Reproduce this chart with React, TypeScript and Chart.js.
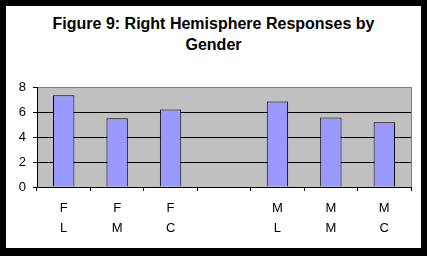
import React, { useEffect, useRef } from "react";
import { Chart, registerables } from "chart.js";

Chart.register(...registerables);

const titleLines = ["Figure 9: Right Hemisphere Responses by", "Gender"];
const categories: (string | string[])[] = [["F", "L"], ["F", "M"], ["F", "C"], "", ["M", "L"], ["M", "M"], ["M", "C"]];
const responses: (number | null)[] = [7.35, 5.5, 6.2, null, 6.85, 5.57, 5.18];
const yMin = 0;
const yMax = 8;
const yStep = 2;

const FONT = "Arial, 'Liberation Sans', sans-serif";

const plotBg = {
  id: "plotBg",
  beforeDraw(chart: any) {
    const { ctx, chartArea: a } = chart;
    ctx.save();
    ctx.fillStyle = "#C0C0C0";
    ctx.fillRect(a.left, a.top, a.right - a.left, a.bottom - a.top);
    ctx.restore();
  },
  afterDatasetsDraw(chart: any) {
    const { ctx, chartArea: a } = chart;
    ctx.save();
    ctx.strokeStyle = "#808080";
    ctx.lineWidth = 1;
    ctx.beginPath();
    ctx.moveTo(Math.round(a.right) + 0.5, a.top);
    ctx.lineTo(Math.round(a.right) + 0.5, a.bottom);
    ctx.stroke();
    ctx.restore();
  },
};

export default function App() {
  const ref = useRef<HTMLCanvasElement>(null);
  useEffect(() => {
    document.body.style.margin = "0";
    const chart = new Chart(ref.current!, {
      type: "bar",
      data: {
        labels: categories,
        datasets: [
          {
            data: responses,
            backgroundColor: "#9999FF",
            borderColor: "#000000",
            borderWidth: 1,
            categoryPercentage: 1,
            barPercentage: 0.4,
          },
        ],
      },
      plugins: [plotBg],
      options: {
        animation: false,
        responsive: false,
        maintainAspectRatio: false,
        layout: { padding: { top: 81, right: 10, left: 0, bottom: 0 } },
        plugins: { legend: { display: false }, tooltip: { enabled: false }, title: { display: false } },
        scales: {
          x: {
            offset: true,
            afterFit: (s: any) => { s.height = 61; },
            grid: { offset: true, drawOnChartArea: false, drawTicks: true, tickLength: 4, color: "#000000" },
            border: { color: "#000000", width: 1 },
            ticks: { color: "#000000", font: { family: FONT, size: 13, lineHeight: 1.5 }, padding: 8, maxRotation: 0, autoSkip: false },
          },
          y: {
            min: yMin,
            max: yMax,
            afterFit: (s: any) => { s.width = 31; },
            grid: {
              color: (c: any) => (c.tick && c.tick.value === yMax ? "#808080" : "#000000"),
              tickColor: "#000000",
              tickLength: 4,
            },
            border: { color: "#000000", width: 1 },
            ticks: { stepSize: yStep, color: "#000000", font: { family: FONT, size: 13 }, padding: 7 },
          },
        },
      },
    });
    return () => chart.destroy();
  }, []);
  return (
    <div style={{ position: "relative", width: 427, height: 256, background: "#000", boxSizing: "border-box", padding: "6px 6px 8px 6px" }}>
      <div style={{ position: "relative", width: 415, height: 242, background: "#fff" }}>
        <div style={{ position: "absolute", top: 7, left: 0, width: 415, textAlign: "center", fontFamily: FONT, fontWeight: "bold", fontSize: 16, lineHeight: "21px", color: "#000" }}>
          {titleLines.map((t, i) => (<div key={i}>{t}</div>))}
        </div>
        <canvas ref={ref} width={415} height={242} style={{ position: "absolute", left: 0, top: 0, width: 415, height: 242 }} />
      </div>
    </div>
  );
}
